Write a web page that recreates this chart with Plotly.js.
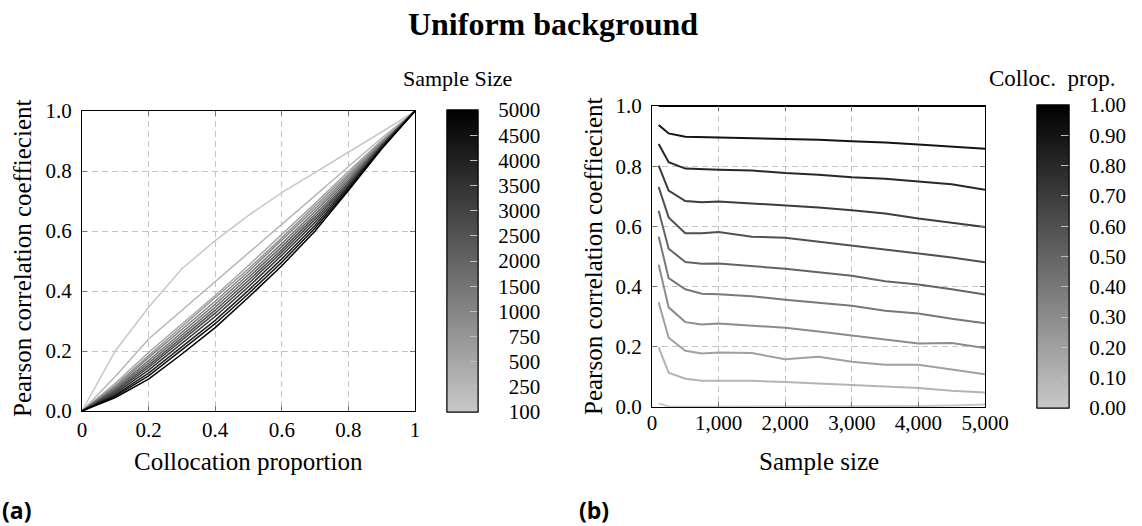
<!DOCTYPE html>
<html>
<head>
<meta charset="utf-8">
<script src="https://cdn.plot.ly/plotly-3.0.1.min.js"></script>
<style>
  html, body { margin: 0; padding: 0; background: #fff; }
  #chart { width: 1142px; height: 526px; }
</style>
</head>
<body>
<div id="chart"></div>
<script>
// ---- Panel (a): correlation vs. collocation proportion, one curve per sample size ----
const collocProps = [0, 0.1, 0.2, 0.3, 0.4, 0.5, 0.6, 0.7, 0.8, 0.9, 1.0];
const sampleSizes = [100, 250, 500, 750, 1000, 1500, 2000, 2500, 3000, 3500, 4000, 4500, 5000];

const corrN100  = [0, 0.200, 0.346, 0.474, 0.568, 0.652, 0.728, 0.795, 0.862, 0.930, 1];
const corrN250  = [0, 0.115, 0.240, 0.335, 0.430, 0.525, 0.622, 0.718, 0.815, 0.910, 1];
const corrN500  = [0, 0.092, 0.195, 0.290, 0.385, 0.485, 0.588, 0.692, 0.798, 0.902, 1];
const corrN750  = [0, 0.085, 0.185, 0.281, 0.375, 0.474, 0.577, 0.682, 0.790, 0.897, 1];
const corrN1000 = [0, 0.081, 0.178, 0.272, 0.366, 0.465, 0.568, 0.674, 0.783, 0.894, 1];
const corrN1500 = [0, 0.076, 0.168, 0.262, 0.356, 0.455, 0.558, 0.665, 0.775, 0.891, 1];
const corrN2000 = [0, 0.072, 0.160, 0.253, 0.346, 0.445, 0.548, 0.656, 0.768, 0.888, 1];
const corrN2500 = [0, 0.068, 0.152, 0.244, 0.336, 0.435, 0.538, 0.647, 0.762, 0.886, 1];
const corrN3000 = [0, 0.064, 0.145, 0.235, 0.326, 0.425, 0.529, 0.638, 0.756, 0.884, 1];
const corrN3500 = [0, 0.059, 0.136, 0.225, 0.315, 0.414, 0.519, 0.629, 0.750, 0.881, 1];
const corrN4000 = [0, 0.054, 0.126, 0.213, 0.302, 0.402, 0.507, 0.619, 0.745, 0.879, 1];
const corrN4500 = [0, 0.050, 0.117, 0.203, 0.291, 0.391, 0.496, 0.610, 0.740, 0.877, 1];
const corrN5000 = [0, 0.045, 0.106, 0.190, 0.278, 0.379, 0.484, 0.600, 0.735, 0.874, 1];

const sizeSeries = [corrN100, corrN250, corrN500, corrN750, corrN1000, corrN1500, corrN2000,
                    corrN2500, corrN3000, corrN3500, corrN4000, corrN4500, corrN5000];
const sizeTickText = ['100', '250', '500', '750', '1000', '1500', '2000', '2500',
                      '3000', '3500', '4000', '4500', '5000'];

// ---- Panel (b): correlation vs. sample size, one curve per collocation proportion ----
const corrP00 = [0.012, 0.002, 0.001, 0.001, 0.001, 0.001, 0.001, 0.001, 0.002, 0.002, 0.003, 0.005, 0.008];
const corrP01 = [0.198, 0.114, 0.094, 0.087, 0.087, 0.087, 0.083, 0.079, 0.073, 0.068, 0.063, 0.054, 0.048];
const corrP02 = [0.348, 0.230, 0.187, 0.178, 0.181, 0.179, 0.159, 0.167, 0.150, 0.140, 0.140, 0.124, 0.109];
const corrP03 = [0.473, 0.331, 0.282, 0.274, 0.277, 0.271, 0.263, 0.251, 0.238, 0.226, 0.211, 0.213, 0.196];
const corrP04 = [0.566, 0.428, 0.391, 0.376, 0.375, 0.368, 0.356, 0.346, 0.336, 0.320, 0.311, 0.293, 0.278];
const corrP05 = [0.652, 0.526, 0.482, 0.476, 0.477, 0.469, 0.459, 0.448, 0.436, 0.418, 0.407, 0.391, 0.374];
const corrP06 = [0.731, 0.630, 0.577, 0.577, 0.581, 0.566, 0.562, 0.549, 0.538, 0.524, 0.511, 0.497, 0.481];
const corrP07 = [0.802, 0.719, 0.684, 0.680, 0.683, 0.677, 0.670, 0.663, 0.654, 0.643, 0.626, 0.613, 0.598];
const corrP08 = [0.874, 0.813, 0.792, 0.789, 0.788, 0.786, 0.777, 0.772, 0.763, 0.758, 0.749, 0.740, 0.722];
const corrP09 = [0.937, 0.909, 0.898, 0.897, 0.896, 0.893, 0.891, 0.888, 0.883, 0.879, 0.872, 0.866, 0.858];
const corrP10 = [1, 1, 1, 1, 1, 1, 1, 1, 1, 1, 1, 1, 1];

const propSeries = [corrP00, corrP01, corrP02, corrP03, corrP04, corrP05,
                    corrP06, corrP07, corrP08, corrP09, corrP10];
const propTickText = ['0.00', '0.10', '0.20', '0.30', '0.40', '0.50',
                      '0.60', '0.70', '0.80', '0.90', '1.00'];

// ---- styling ----
const SERIF = 'Liberation Serif, serif';
const GRAYSCALE = [[0, 'rgb(200,200,200)'], [1, 'rgb(0,0,0)']];
function grayAt(t) {
  const v = Math.round(200 * (1 - t));
  return `rgb(${v},${v},${v})`;
}
const W = 1142, H = 526;
const px = x => x / W;
const py = y => 1 - y / H;

const traces = [];

sizeSeries.forEach((ys, i) => {
  traces.push({
    type: 'scatter', mode: 'lines', xaxis: 'x', yaxis: 'y',
    x: collocProps, y: ys, name: 'n = ' + sampleSizes[i],
    line: { color: grayAt(i / (sizeSeries.length - 1)), width: 1.5 },
    hoverinfo: 'x+y+name'
  });
});

propSeries.forEach((ys, i) => {
  traces.push({
    type: 'scatter', mode: 'lines', xaxis: 'x2', yaxis: 'y2',
    x: sampleSizes, y: ys, name: 'prop = ' + propTickText[i],
    line: { color: grayAt(i / (propSeries.length - 1)), width: 2 },
    hoverinfo: 'x+y+name'
  });
});

// colour keys: a labelled bar plus an overlay carrying the short inner tick dashes
function colorKey(axX, axY, vals, texts, bar, withLabels) {
  const cb = {
    x: px(bar.left), xanchor: 'left', xref: 'paper',
    y: py((bar.top + bar.bottom) / 2), yanchor: 'middle', yref: 'paper',
    len: bar.bottom - bar.top, lenmode: 'pixels',
    thickness: bar.width, thicknessmode: 'pixels',
    xpad: 0, ypad: 0, borderwidth: 0,
    outlinewidth: 1, outlinecolor: '#000',
    tickmode: 'array'
  };
  if (withLabels) {
    Object.assign(cb, {
      tickvals: vals, ticktext: texts, ticks: 'outside', ticklen: 16,
      tickcolor: 'rgba(0,0,0,0)', tickfont: { family: SERIF, size: 21, color: '#000' }
    });
  } else {
    Object.assign(cb, {
      tickvals: vals.slice(1, -1), ticktext: texts.slice(1, -1), ticks: 'inside', ticklen: 8,
      tickcolor: 'rgb(190,190,190)', tickwidth: 1, showticklabels: false
    });
  }
  return {
    type: 'scatter', mode: 'markers', xaxis: axX, yaxis: axY,
    x: [null], y: [null], hoverinfo: 'skip', showlegend: false,
    marker: {
      color: [0], cmin: 0, cmax: vals.length - 1, colorscale: GRAYSCALE,
      showscale: true, colorbar: cb
    }
  };
}

const sizeIdx = sampleSizes.map((_, i) => i);
const propIdx = propTickText.map((_, i) => i);
const sizeLabels = sizeTickText.map(t => t.length < 4 ? '\u2007' + t : t);
const barA = { left: 447, width: 31, top: 110, bottom: 412 };
const barB = { left: 1037, width: 32, top: 105, bottom: 408 };
traces.push(colorKey('x', 'y', sizeIdx, sizeLabels, barA, true));
traces.push(colorKey('x', 'y', sizeIdx, sizeLabels, barA, false));
traces.push(colorKey('x2', 'y2', propIdx, propTickText, barB, true));
traces.push(colorKey('x2', 'y2', propIdx, propTickText, barB, false));

const axisBase = {
  showgrid: true, gridcolor: '#c4c4c4', gridwidth: 1, griddash: '6px,4px',
  showline: true, linecolor: '#000', linewidth: 1, mirror: 'ticks',
  ticks: 'inside', ticklen: 5, tickwidth: 1, tickcolor: '#777',
  zeroline: false, automargin: false, fixedrange: true,
  tickfont: { family: SERIF, size: 21, color: '#000' }
};

function note(text, x, y, opts) {
  return Object.assign({
    text: text, x: x, y: y, xref: 'paper', yref: 'paper',
    xanchor: 'center', yanchor: 'middle', showarrow: false,
    font: { family: SERIF, size: 25, color: '#000' }
  }, opts || {});
}

const layout = {
  width: W, height: H,
  margin: { l: 0, r: 0, t: 0, b: 0 },
  paper_bgcolor: '#fff', plot_bgcolor: '#fff',
  showlegend: false,
  font: { family: SERIF, size: 21, color: '#000' },
  title: {
    text: '<b>Uniform background</b>',
    x: px(553), xanchor: 'center', y: py(24), yanchor: 'middle',
    font: { family: SERIF, size: 32, color: '#000' }
  },
  xaxis: Object.assign({}, axisBase, {
    domain: [px(82), px(415)], range: [0, 1], tick0: 0, dtick: 0.2,
    anchor: 'y', ticklabelstandoff: 0
  }),
  yaxis: Object.assign({}, axisBase, {
    domain: [py(411), py(111)], range: [0, 1], tick0: 0, dtick: 0.2,
    tickformat: '.1f', anchor: 'x', ticklabelstandoff: 5
  }),
  xaxis2: Object.assign({}, axisBase, {
    domain: [px(652), px(985)], range: [0, 5000], tick0: 0, dtick: 1000,
    tickformat: ',d', anchor: 'y2', ticklabelstandoff: -3
  }),
  yaxis2: Object.assign({}, axisBase, {
    domain: [py(407), py(106)], range: [0, 1], tick0: 0, dtick: 0.2,
    tickformat: '.1f', anchor: 'x2', ticklabelstandoff: 5
  }),
  annotations: [
    note('Collocation proportion', px(248.5), py(461)),
    note('Sample size', px(818.5), py(461)),
    note('Pearson correlation coeffiecient', px(23), py(259), { textangle: -90 }),
    note('Pearson correlation coeffiecient', px(593), py(257), { textangle: -90 }),
    note('Sample Size', px(457), py(78), { font: { family: SERIF, size: 22, color: '#000' } }),
    note('Colloc.\u00a0 prop.', px(1052), py(78), { font: { family: SERIF, size: 23, color: '#000' } }),
    note('<b>(a)</b>', 0, py(510), { xanchor: 'left', font: { family: 'Open Sans, sans-serif', size: 23, color: '#000' } }),
    note('<b>(b)</b>', px(577), py(510), { xanchor: 'left', font: { family: 'Open Sans, sans-serif', size: 23, color: '#000' } })
  ]
};

Plotly.newPlot('chart', traces, layout, { staticPlot: true, displayModeBar: false });
</script>
</body>
</html>
